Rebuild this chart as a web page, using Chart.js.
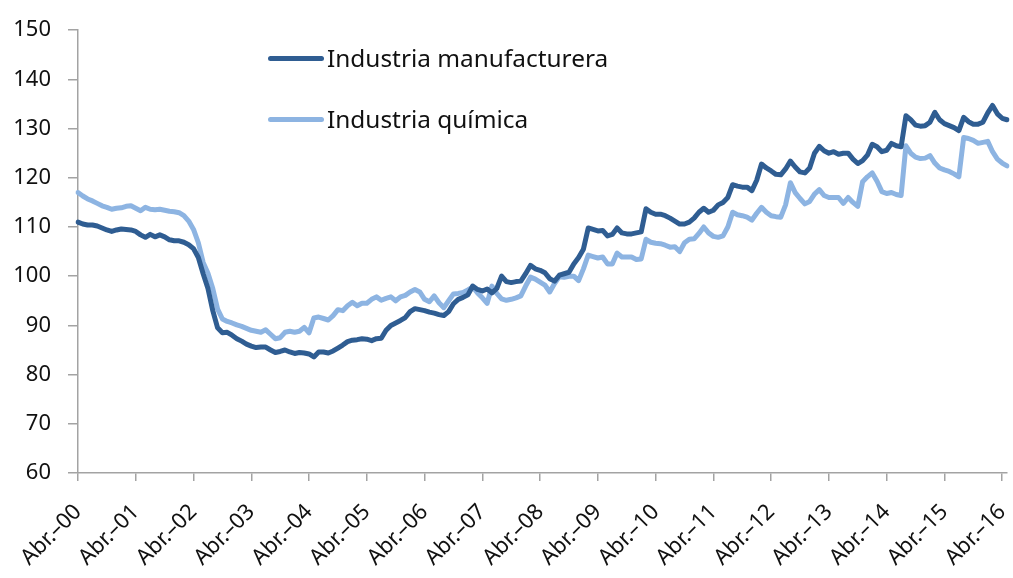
<!DOCTYPE html>
<html>
<head>
<meta charset="utf-8">
<script src="https://cdn.jsdelivr.net/npm/chart.js@4/dist/chart.umd.min.js"></script>
<style>
  body { margin: 0; background: #fff; }
  #wrap { position: relative; width: 1013px; height: 578px; }
  .key { position: absolute; left: 268px; height: 30px; line-height: 30px; display: flex; align-items: center;
         font-family: "Noto Sans", sans-serif; font-size: 24.4px; color: #111; white-space: nowrap; }
  .key span.ln { display: inline-block; width: 56px; height: 5px; border-radius: 3px; margin-right: 3px; }
</style>
</head>
<body>
<div id="wrap">
  <canvas id="myChart" width="1013" height="578"></canvas>
  <div class="key" style="top:43px"><span class="ln" style="background:#2F5D92"></span>Industria manufacturera</div>
  <div class="key" style="top:104px"><span class="ln" style="background:#8DB4E2"></span>Industria química</div>
</div>
<script>
// one label per year, placed on every April
const tickLabels = ["Abr.–00", "Abr.–01", "Abr.–02", "Abr.–03", "Abr.–04", "Abr.–05", "Abr.–06", "Abr.–07", "Abr.–08",
  "Abr.–09", "Abr.–10", "Abr.–11", "Abr.–12", "Abr.–13", "Abr.–14", "Abr.–15", "Abr.–16"];
const monthNames = ["Abr", "May", "Jun", "Jul", "Ago", "Sep", "Oct", "Nov", "Dic", "Ene", "Feb", "Mar"];

// monthly index, Apr 2000 - May 2016
const manufacturera = [
  111.0, 110.6, 110.4, 110.4, 110.2, 109.8, 109.4, 109.1, 109.4, 109.6, 109.5, 109.4,
  109.1, 108.4, 107.9, 108.5, 108.0, 108.4, 108.0, 107.4, 107.2, 107.2, 106.9, 106.4,
  105.6, 103.8, 100.5, 97.5, 93.0, 89.5, 88.5, 88.6, 88.0, 87.3, 86.8, 86.2,
  85.8, 85.5, 85.6, 85.6, 85.0, 84.5, 84.7, 85.0, 84.6, 84.3, 84.5, 84.4,
  84.2, 83.6, 84.6, 84.6, 84.4, 84.8, 85.4, 86.0, 86.7, 87.0, 87.1, 87.3,
  87.2, 86.9, 87.3, 87.4, 89.0, 90.0, 90.5, 91.0, 91.6, 92.8, 93.4, 93.2,
  93.0, 92.7, 92.5, 92.2, 92.0, 92.8, 94.4, 95.3, 95.7, 96.2, 98.0, 97.3,
  97.0, 97.4, 96.6, 97.5, 100.0, 98.9, 98.7, 98.9, 99.0, 100.5, 102.2, 101.5,
  101.2, 100.7, 99.5, 99.0, 100.2, 100.5, 100.8, 102.5, 103.8, 105.5, 109.8, 109.5,
  109.2, 109.3, 108.2, 108.5, 109.8, 108.8, 108.6, 108.6, 108.8, 109.0, 113.7, 113.0,
  112.6, 112.6, 112.3, 111.8, 111.2, 110.6, 110.6, 111.0, 111.8, 113.0, 113.8, 113.0,
  113.4, 114.5, 115.0, 116.0, 118.6, 118.3, 118.1, 118.1, 117.4, 119.5, 122.8, 122.0,
  121.4, 120.7, 120.6, 121.8, 123.4, 122.2, 121.2, 121.0, 122.0, 125.0, 126.4, 125.5,
  125.0, 125.3, 124.8, 125.0, 125.0, 123.8, 122.9, 123.5, 124.6, 126.8, 126.3, 125.3,
  125.6, 127.0, 126.5, 126.3, 132.6, 131.8, 130.7, 130.5, 130.6, 131.3, 133.3, 131.8,
  131.0, 130.6, 130.2, 129.6, 132.3, 131.4, 130.9, 130.9, 131.3, 133.2, 134.7, 133.0,
  132.1, 131.8
];
const quimica = [
  117.0, 116.3, 115.7, 115.3, 114.8, 114.3, 114.0, 113.6, 113.8, 113.9, 114.2, 114.3,
  113.8, 113.3, 114.0, 113.6, 113.5, 113.6, 113.4, 113.2, 113.1, 112.9, 112.3, 111.2,
  109.5, 106.8, 102.8, 100.6, 97.5, 93.3, 91.3, 90.8, 90.5, 90.1, 89.8, 89.4,
  89.0, 88.8, 88.6, 89.1, 88.2, 87.3, 87.5, 88.6, 88.8, 88.6, 88.8, 89.6,
  88.5, 91.5, 91.7, 91.4, 91.1, 92.0, 93.2, 93.0, 94.0, 94.7, 94.0, 94.5,
  94.5, 95.3, 95.8, 95.1, 95.5, 95.8, 95.0, 95.8, 96.1, 96.8, 97.3, 96.8,
  95.3, 94.8, 96.0, 94.6, 93.6, 95.0, 96.4, 96.5, 96.7, 97.2, 97.8, 96.6,
  95.6, 94.5, 98.0, 96.5, 95.4, 95.1, 95.3, 95.6, 96.0, 98.0, 99.8, 99.4,
  98.8, 98.2, 96.8, 98.5, 99.9, 99.8, 100.0, 100.0, 99.1, 101.5, 104.3, 104.0,
  103.7, 103.9, 102.5, 102.5, 104.7, 103.9, 103.9, 103.9, 103.4, 103.5, 107.5, 106.9,
  106.7, 106.6, 106.3, 105.9, 106.0, 105.0, 106.8, 107.5, 107.6, 108.7, 110.0, 108.8,
  108.1, 107.9, 108.2, 110.0, 113.0, 112.5, 112.3, 112.0, 111.4, 112.8, 114.0, 113.0,
  112.3, 112.1, 112.0, 114.5, 119.0, 117.0, 115.8, 114.7, 115.2, 116.7, 117.6, 116.4,
  116.0, 116.0, 116.0, 114.8, 116.0, 115.0, 114.2, 119.2, 120.2, 121.0, 119.3, 117.2,
  116.8, 117.0, 116.6, 116.4, 126.5, 125.0, 124.2, 123.9, 124.0, 124.5, 123.0, 122.0,
  121.6, 121.3, 120.8, 120.2, 128.2, 128.0, 127.6, 127.0, 127.2, 127.4, 125.3, 123.8,
  123.0, 122.4
];

const categories = manufacturera.map((v, i) => {
  const yr = 2000 + Math.floor((i + 3) / 12);
  return monthNames[i % 12] + "-" + String(yr).slice(2);
});

const axisColor = "#a3a3a3";

new Chart(document.getElementById("myChart"), {
  type: "line",
  data: {
    labels: categories,
    datasets: [
      { label: "Industria manufacturera", data: manufacturera, borderColor: "#2F5D92", borderWidth: 5 },
      { label: "Industria química", data: quimica, borderColor: "#8DB4E2", borderWidth: 5 }
    ]
  },
  options: {
    responsive: false,
    animation: false,
    devicePixelRatio: 1,
    layout: { padding: { top: 18, right: 6, left: 0, bottom: 0 } },
    elements: { point: { radius: 0 }, line: { tension: 0, borderCapStyle: "round", borderJoinStyle: "round" } },
    plugins: { legend: { display: false }, tooltip: { enabled: false } },
    scales: {
      x: {
        offset: false,
        border: { color: axisColor, width: 1.5 },
        grid: { drawOnChartArea: false, drawTicks: true, tickLength: 8, color: axisColor, lineWidth: 1.5 },
        ticks: {
          autoSkip: false, minRotation: 45, maxRotation: 45, padding: 18,
          color: "#111", font: { family: "Noto Sans", size: 22 },
          callback: (v, i) => (i % 12 === 0 ? tickLabels[i / 12] : null)
        },
        afterFit: s => { s.height = 105; s.paddingRight = 0; s.paddingLeft = 0; }
      },
      y: {
        min: 60, max: 150,
        border: { color: axisColor, width: 1.5 },
        grid: { drawOnChartArea: false, drawTicks: true, tickLength: 10, color: axisColor, lineWidth: 1.5 },
        ticks: { stepSize: 10, padding: 17, color: "#111", font: { family: "Noto Sans", size: 22 } },
        afterFit: s => { s.width = 78; }
      }
    }
  }
});
</script>
</body>
</html>
